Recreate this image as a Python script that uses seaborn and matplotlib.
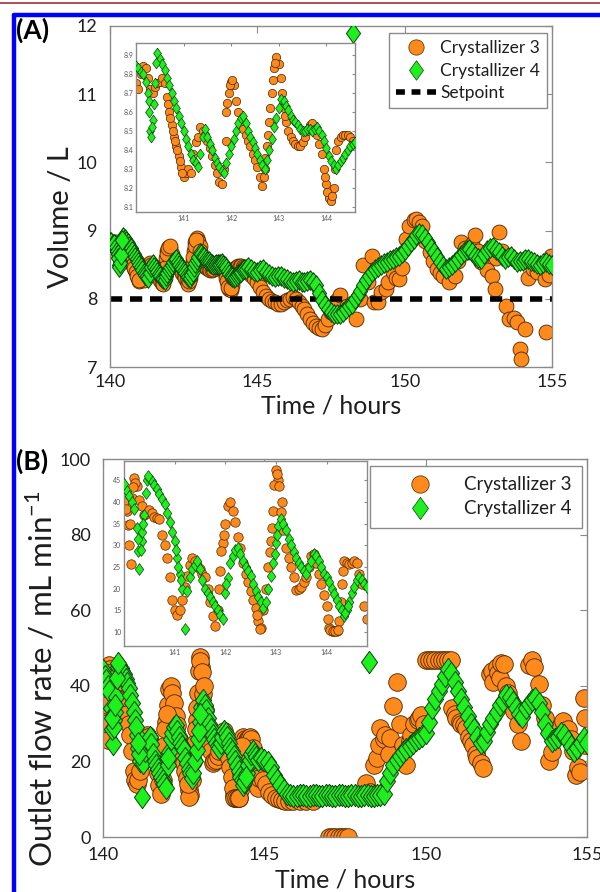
import numpy as np
import pandas as pd
import matplotlib
matplotlib.use("Agg")
import matplotlib.pyplot as plt
import seaborn as sns
from matplotlib.lines import Line2D

# ================= Panel A: Volume / L =================
# Crystallizer 3 (orange circles)
a_c3_t = [140.00, 140.05, 140.10, 140.15, 140.20, 140.25, 140.30, 140.35, 140.40, 140.45, 140.50, 140.55,
          140.60, 140.65, 140.70, 140.75, 140.80, 140.85, 140.90, 140.95, 141.00, 141.05, 141.10, 141.15,
          141.20, 141.25, 141.30, 141.35, 141.40, 141.45, 141.50, 141.55, 141.60, 141.65, 141.70, 141.75,
          141.80, 141.85, 141.90, 141.95, 142.00, 142.05, 142.10, 142.15, 142.20, 142.25, 142.30, 142.35,
          142.40, 142.45, 142.50, 142.55, 142.60, 142.65, 142.70, 142.75, 142.80, 142.85, 142.90, 142.95,
          143.00, 143.05, 143.10, 143.15, 143.20, 143.25, 143.30, 143.35, 143.40, 143.45, 143.50, 143.55,
          143.60, 143.65, 143.70, 143.75, 143.80, 143.85, 143.90, 143.95, 144.00, 144.05, 144.10, 144.15,
          144.20, 144.25, 144.30, 144.35, 144.40, 144.45, 144.50, 144.55, 144.60,
          141.88, 141.92, 141.98, 142.02, 142.68, 142.72, 142.78, 142.82, 142.87, 142.92, 143.07, 143.12,
          140.67, 140.72, 140.77, 140.82, 140.87, 140.92, 140.97, 143.97, 144.02, 144.12, 144.17,
          144.7, 144.8, 144.9, 145.0, 145.1, 145.2, 145.3, 145.4, 145.5, 145.6, 145.7, 145.8,
          145.9, 146.0, 146.1, 146.2, 146.3, 146.4, 146.5, 146.6, 146.7, 146.8, 146.9, 147.0,
          147.1, 147.2, 147.3, 147.4, 147.5, 147.6, 147.7, 147.8, 148.05, 148.35, 148.5, 148.6,
          148.75, 148.9, 148.95, 149.1, 149.2, 149.35, 149.45, 149.6, 149.7, 149.8, 149.9, 150.05,
          150.15, 150.3, 150.4, 150.5, 150.6, 150.7, 150.85, 150.95, 151.1, 151.2, 151.3, 151.5,
          151.7, 151.8, 151.9, 152.05, 152.15, 152.3, 152.4, 152.5, 152.6, 152.8, 152.95, 153.05,
          153.1, 153.2, 153.3, 153.45, 153.55, 153.7, 153.8, 153.9, 153.95, 154.1, 154.2, 154.35,
          154.5, 154.6, 154.75, 154.8, 154.9, 154.95]
a_c3_v = [8.75, 8.72, 8.80, 8.84, 8.83, 8.78, 8.72, 8.70, 8.73, 8.75, 8.76, 8.78,
          8.75, 8.68, 8.60, 8.53, 8.47, 8.42, 8.37, 8.31, 8.26, 8.28, 8.30, 8.28,
          8.38, 8.44, 8.47, 8.52, 8.50, 8.48, 8.45, 8.41, 8.37, 8.32, 8.28, 8.23,
          8.22, 8.30, 8.60, 8.70, 8.76, 8.74, 8.66, 8.60, 8.55, 8.51, 8.48, 8.45,
          8.42, 8.38, 8.35, 8.31, 8.26, 8.21, 8.30, 8.42, 8.55, 8.70, 8.83, 8.89,
          8.85, 8.78, 8.62, 8.55, 8.50, 8.47, 8.45, 8.43, 8.42, 8.42, 8.44, 8.47,
          8.50, 8.53, 8.54, 8.51, 8.48, 8.43, 8.38, 8.30, 8.22, 8.15, 8.13, 8.20,
          8.40, 8.45, 8.47, 8.48, 8.48, 8.48, 8.47, 8.45, 8.43,
          8.45, 8.65, 8.74, 8.77, 8.26, 8.36, 8.48, 8.62, 8.77, 8.86, 8.70, 8.58,
          8.64, 8.57, 8.50, 8.45, 8.40, 8.34, 8.28, 8.26, 8.18, 8.16, 8.30,
          8.40, 8.35, 8.30, 8.25, 8.18, 8.10, 8.04, 8.00, 7.97, 7.95, 7.93, 7.92,
          7.95, 7.98, 8.00, 8.02, 7.99, 7.95, 7.90, 7.85, 7.78, 7.70, 7.65, 7.60,
          7.57, 7.55, 7.62, 7.70, 7.80, 7.90, 7.98, 8.05, 7.90, 7.71, 8.00, 8.49,
          8.25, 8.63, 7.95, 7.95, 8.10, 8.15, 8.25, 8.39, 8.30, 8.29, 8.45, 8.88,
          9.07, 9.15, 9.17, 9.12, 9.07, 8.85, 8.68, 8.55, 8.44, 8.38, 8.34, 8.24,
          8.34, 8.55, 8.83, 8.75, 8.68, 8.80, 8.93, 8.70, 8.54, 8.42, 8.34, 8.15,
          8.60, 8.98, 8.70, 7.90, 7.71, 7.72, 7.66, 7.27, 7.12, 7.56, 8.30, 8.44,
          8.40, 8.49, 8.29, 7.51, 8.35, 8.63]

# Crystallizer 4 (green diamonds)
a_c4_t = [140.00, 140.05, 140.10, 140.15, 140.20, 140.25, 140.30, 140.35, 140.40, 140.45, 140.50, 140.55,
          140.60, 140.65, 140.70, 140.75, 140.80, 140.85, 140.90, 140.95, 141.00, 141.05, 141.10, 141.15,
          141.20, 141.25, 141.30, 141.35, 141.40, 141.45, 141.50, 141.55, 141.60, 141.65, 141.70, 141.75,
          141.80, 141.85, 141.90, 141.95, 142.00, 142.05, 142.10, 142.15, 142.20, 142.25, 142.30, 142.35,
          142.40, 142.45, 142.50, 142.55, 142.60, 142.65, 142.70, 142.75, 142.80, 142.85, 142.90, 142.95,
          143.00, 143.05, 143.10, 143.15, 143.20, 143.25, 143.30, 143.35, 143.40, 143.45, 143.50, 143.55,
          143.60, 143.65, 143.70, 143.75, 143.80, 143.85, 143.90, 143.95, 144.00, 144.05, 144.10, 144.15,
          144.20, 144.25, 144.30, 144.35, 144.40, 144.45, 144.50, 144.55, 144.60,
          140.27, 140.28, 140.32, 140.33, 140.37, 140.42,
          144.7, 144.8, 144.9, 145.0, 145.1, 145.2, 145.3, 145.4, 145.5, 145.6, 145.7, 145.8,
          145.9, 146.0, 146.1, 146.2, 146.3, 146.4, 146.5, 146.6, 146.7, 146.8, 146.9, 147.0,
          147.1, 147.2, 147.3, 147.4, 147.5, 147.6, 147.7, 147.8, 147.9, 148.0, 148.1, 148.2,
          148.25, 148.3, 148.4, 148.5, 148.6, 148.7, 148.8, 148.9, 149.0, 149.1, 149.2, 149.3,
          149.4, 149.5, 149.6, 149.7, 149.8, 149.9, 150.0, 150.1, 150.2, 150.3, 150.4, 150.5,
          150.6, 150.7, 150.8, 150.9, 151.0, 151.1, 151.2, 151.3, 151.4, 151.5, 151.6, 151.7,
          151.8, 151.9, 152.0, 152.1, 152.2, 152.3, 152.4, 152.5, 152.6, 152.7, 152.8, 152.9,
          153.0, 153.1, 153.2, 153.3, 153.4, 153.5, 153.6, 153.7, 153.8, 153.9, 154.0, 154.1,
          154.2, 154.3, 154.4, 154.5, 154.6, 154.7, 154.8, 154.9, 155.0]
a_c4_v = [8.84, 8.83, 8.81, 8.80, 8.76, 8.70, 8.50, 8.56, 8.75, 8.91, 8.88, 8.85,
          8.82, 8.78, 8.74, 8.70, 8.66, 8.62, 8.58, 8.54, 8.50, 8.46, 8.42, 8.38,
          8.35, 8.33, 8.31, 8.38, 8.47, 8.51, 8.47, 8.43, 8.40, 8.36, 8.33, 8.31,
          8.29, 8.28, 8.33, 8.38, 8.42, 8.46, 8.50, 8.54, 8.57, 8.58, 8.54, 8.50,
          8.47, 8.44, 8.41, 8.38, 8.35, 8.32, 8.30, 8.35, 8.40, 8.46, 8.52, 8.57,
          8.62, 8.67, 8.66, 8.63, 8.61, 8.58, 8.56, 8.55, 8.53, 8.51, 8.50, 8.50,
          8.51, 8.51, 8.50, 8.51, 8.52, 8.50, 8.48, 8.45, 8.41, 8.37, 8.34, 8.32,
          8.30, 8.32, 8.34, 8.36, 8.38, 8.40, 8.42, 8.43, 8.44,
          8.66, 8.60, 8.47, 8.52, 8.64, 8.86,
          8.46, 8.44, 8.41, 8.39, 8.42, 8.44, 8.40, 8.37, 8.34, 8.32, 8.33, 8.34,
          8.31, 8.29, 8.26, 8.24, 8.26, 8.27, 8.25, 8.24, 8.26, 8.27, 8.24, 8.20,
          8.08, 7.98, 7.91, 7.85, 7.80, 7.78, 7.77, 7.78, 7.81, 7.85, 7.89, 7.93,
          11.90, 7.99, 8.05, 8.12, 8.20, 8.27, 8.34, 8.39, 8.44, 8.47, 8.49, 8.52,
          8.54, 8.57, 8.59, 8.61, 8.63, 8.67, 8.71, 8.77, 8.83, 8.88, 8.93, 8.96,
          8.95, 8.89, 8.83, 8.75, 8.68, 8.61, 8.54, 8.48, 8.44, 8.46, 8.49, 8.54,
          8.59, 8.64, 8.68, 8.71, 8.73, 8.68, 8.63, 8.60, 8.59, 8.65, 8.71, 8.74,
          8.76, 8.72, 8.68, 8.63, 8.59, 8.61, 8.63, 8.58, 8.54, 8.55, 8.56, 8.58,
          8.59, 8.56, 8.54, 8.51, 8.49, 8.52, 8.54, 8.51, 8.49]
setpoint = 8.0

# ================= Panel B: Outlet flow rate =================
b_c3_t = [140.00, 140.05, 140.10, 140.15, 140.20, 140.25, 140.30, 140.35, 140.40, 140.45, 140.50, 140.55,
          140.60, 140.65, 140.70, 140.75, 140.80, 140.85, 140.90, 140.95, 141.00, 141.05, 141.10, 141.15,
          141.20, 141.25, 141.30, 141.35, 141.40, 141.45, 141.50, 141.55, 141.60, 141.65, 141.70, 141.75,
          141.80, 141.85, 141.90, 141.95, 142.00, 142.05, 142.10, 142.15, 142.20, 142.25, 142.30, 142.35,
          142.40, 142.45, 142.50, 142.55, 142.60, 142.65, 142.70, 142.75, 142.80, 142.85, 142.90, 142.95,
          143.00, 143.05, 143.10, 143.15, 143.20, 143.25, 143.30, 143.35, 143.40, 143.45, 143.50, 143.55,
          143.60, 143.65, 143.70, 143.75, 143.80, 143.85, 143.90, 143.95, 144.00, 144.05, 144.10, 144.15,
          144.20, 144.25, 144.30, 144.35, 144.40, 144.45, 144.50, 144.55, 144.60, 144.65, 144.70, 144.75,
          144.80,
          140.03, 140.07, 140.14, 140.12, 141.88, 141.92, 141.98, 142.97, 142.92, 142.88, 143.02, 143.07,
          143.12, 142.68, 142.62, 144.32, 144.28, 144.02, 144.07, 144.12, 144.17, 144.22, 140.22, 140.18,
          144.85, 144.95, 145.05, 145.15, 145.25, 145.35, 145.45, 145.55, 145.65, 145.75, 145.9, 146.1,
          146.3, 146.5, 147.0, 147.1, 147.2, 147.3, 147.4, 147.5, 147.6, 148.15, 148.26, 148.4,
          148.5, 148.55, 148.6, 148.7, 148.75, 148.85, 148.9, 149.0, 149.1, 149.2, 149.3, 149.4,
          149.5, 149.55, 149.65, 149.75, 149.8, 149.86, 149.95, 150.0, 150.1, 150.2, 150.3, 150.4,
          150.5, 150.6, 150.7, 150.8, 150.82, 150.9, 150.95, 151.05, 151.1, 151.2, 151.25, 151.35,
          151.4, 151.47, 151.55, 151.6, 151.7, 151.78, 152.0, 152.05, 152.1, 152.2, 152.25, 152.3,
          152.35, 152.42, 152.5, 152.55, 152.65, 152.75, 152.85, 152.96, 153.2, 153.28, 153.35, 153.5,
          153.6, 153.71, 153.82, 153.9, 154.03, 154.15, 154.25, 154.4, 154.5, 154.57, 154.67, 154.72,
          154.78, 154.9, 154.93, 154.95]
b_c3_v = [40.0, 38.0, 30.2, 41.0, 45.6, 43.7, 40.5, 39.0, 37.0, 37.5, 38.1, 37.5,
          36.6, 36.4, 36.2, 32.5, 30.0, 27.0, 22.7, 17.5, 15.2, 14.0, 15.0, 17.5,
          20.5, 23.0, 25.5, 27.0, 26.5, 25.5, 24.5, 23.5, 22.7, 20.0, 17.0, 13.7,
          11.5, 15.0, 24.0, 30.5, 35.0, 39.2, 40.0, 38.0, 35.5, 32.0, 29.5, 26.0,
          23.5, 21.5, 19.5, 17.5, 15.5, 12.5, 11.0, 15.0, 20.0, 25.0, 31.0, 38.0,
          47.5, 45.0, 37.7, 33.5, 29.5, 27.0, 25.0, 22.7, 19.7, 20.0, 20.5, 21.5,
          22.7, 25.0, 27.5, 28.0, 26.0, 23.5, 21.0, 18.5, 16.0, 11.0, 10.2, 10.2,
          10.3, 12.5, 21.2, 26.5, 26.0, 25.7, 26.0, 26.5, 26.0, 23.5, 21.2, 16.0,
          13.0,
          38.5, 34.7, 25.7, 35.0, 20.0, 28.7, 32.5, 44.0, 34.0, 28.5, 46.5, 43.7,
          40.0, 10.7, 14.0, 24.0, 17.0, 13.0, 10.4, 10.2, 10.2, 10.4, 44.5, 43.5,
          15.6, 15.0, 14.0, 12.0, 11.0, 10.2, 10.0, 9.8, 9.6, 9.5, 9.5, 9.5,
          9.5, 9.5, 0.0, 0.0, 0.0, 0.0, 0.0, 0.0, 0.0, 14.2, 12.0, 19.0,
          20.9, 24.4, 28.9, 26.0, 27.1, 22.0, 26.2, 34.7, 40.9, 30.0, 24.4, 19.1,
          25.5, 27.0, 29.8, 31.0, 31.5, 32.4, 30.0, 46.7, 46.7, 46.7, 46.7, 46.7,
          46.7, 46.7, 46.7, 46.7, 34.2, 32.5, 31.6, 30.5, 30.0, 29.5, 28.9, 26.5,
          25.5, 24.4, 22.0, 20.9, 19.5, 18.2, 43.1, 44.0, 41.0, 44.9, 43.5, 42.0,
          46.0, 45.8, 40.0, 38.0, 35.5, 33.3, 30.0, 25.3, 45.5, 46.7, 45.0, 40.4,
          35.0, 31.6, 20.0, 22.5, 27.1, 29.0, 30.7, 28.5, 26.0, 22.7, 16.4, 18.5,
          17.3, 36.9, 31.6, 24.4]

b_c4_t = [140.00, 140.05, 140.10, 140.15, 140.20, 140.25, 140.30, 140.35, 140.40, 140.45, 140.50, 140.55,
          140.60, 140.65, 140.70, 140.75, 140.80, 140.85, 140.90, 140.95, 141.00, 141.05, 141.10, 141.15,
          141.20, 141.25, 141.30, 141.35, 141.40, 141.45, 141.50, 141.55, 141.60, 141.65, 141.70, 141.75,
          141.80, 141.85, 141.90, 141.95, 142.00, 142.05, 142.10, 142.15, 142.20, 142.25, 142.30, 142.35,
          142.40, 142.45, 142.50, 142.55, 142.60, 142.65, 142.70, 142.75, 142.80, 142.85, 142.90, 142.95,
          143.00, 143.05, 143.10, 143.15, 143.20, 143.25, 143.30, 143.35, 143.40, 143.45, 143.50, 143.55,
          143.60, 143.65, 143.70, 143.75, 143.80, 143.85, 143.90, 143.95, 144.00, 144.05, 144.10, 144.15,
          144.20, 144.25, 144.30, 144.35, 144.40, 144.45, 144.50, 144.55, 144.60, 144.65, 144.70, 144.75,
          144.80,
          140.28, 140.33, 140.36, 140.43, 140.27, 140.38, 140.47, 142.02, 142.98, 143.02, 144.37, 144.42,
          141.12, 141.02, 141.07,
          144.9, 145.0, 145.1, 145.2, 145.3, 145.4, 145.5, 145.6, 145.7, 145.8, 145.9, 146.0,
          146.1, 146.2, 146.3, 146.4, 146.5, 146.6, 146.7, 146.8, 146.9, 147.0, 147.1, 147.2,
          147.3, 147.4, 147.5, 147.6, 147.7, 147.8, 147.9, 148.0, 148.1, 148.2, 148.25, 148.3,
          148.4, 148.5, 148.6, 148.7, 148.8, 148.9, 149.0, 149.1, 149.2, 149.3, 149.4, 149.5,
          149.6, 149.7, 149.8, 149.9, 150.0, 150.1, 150.2, 150.3, 150.4, 150.5, 150.6, 150.7,
          150.8, 150.9, 151.0, 151.1, 151.2, 151.3, 151.4, 151.5, 151.6, 151.7, 151.8, 151.9,
          152.0, 152.1, 152.2, 152.3, 152.4, 152.5, 152.6, 152.7, 152.8, 152.9, 153.0, 153.1,
          153.2, 153.3, 153.4, 153.5, 153.6, 153.7, 153.8, 153.9, 154.0, 154.1, 154.2, 154.3,
          154.4, 154.5, 154.6, 154.7, 154.8, 154.9, 155.0]
b_c4_v = [44.1, 42.5, 41.5, 40.0, 38.5, 34.0, 24.6, 31.0, 37.0, 45.0, 45.5, 44.8,
          44.0, 43.0, 41.8, 40.8, 39.5, 37.5, 35.5, 33.0, 31.0, 27.0, 23.5, 20.0,
          10.7, 19.5, 22.7, 24.5, 25.5, 26.5, 24.5, 22.0, 20.0, 19.0, 18.0, 17.0,
          16.0, 15.0, 14.0, 13.0, 19.0, 22.5, 26.0, 27.5, 29.0, 29.5, 28.0, 26.5,
          25.0, 24.0, 23.0, 21.0, 19.5, 18.0, 17.0, 15.5, 17.0, 20.0, 23.0, 26.0,
          30.5, 34.5, 36.2, 35.0, 33.5, 31.5, 30.0, 28.5, 27.0, 26.0, 25.0, 24.0,
          23.5, 25.0, 26.5, 28.0, 27.5, 26.5, 25.0, 23.5, 22.7, 21.5, 20.0, 18.7,
          17.5, 16.0, 15.0, 13.7, 15.0, 17.0, 19.0, 20.5, 22.0, 22.7, 22.0, 21.2,
          20.5,
          28.7, 29.0, 33.0, 42.0, 31.5, 35.0, 46.0, 21.0, 28.0, 32.5, 14.5, 16.0,
          22.0, 29.0, 25.0,
          21.0, 20.5, 19.8, 18.5, 16.5, 15.0, 13.8, 12.5, 11.5, 11.0, 10.8, 10.8,
          11.0, 11.0, 10.8, 10.8, 11.0, 11.0, 10.8, 10.8, 11.0, 11.0, 10.8, 10.8,
          11.0, 11.0, 10.8, 10.8, 11.0, 11.0, 10.8, 10.8, 11.0, 11.0, 46.2, 10.8,
          10.8, 11.0, 11.2, 11.5, 14.7, 17.0, 19.1, 20.3, 21.5, 22.5, 23.2, 24.0,
          25.0, 25.6, 26.2, 26.7, 27.5, 30.5, 34.0, 36.5, 38.5, 40.4, 42.5, 44.5,
          43.5, 41.0, 38.5, 36.5, 34.5, 32.0, 30.0, 28.5, 26.5, 24.8, 25.5, 27.8,
          29.8, 31.5, 33.0, 35.0, 36.0, 37.5, 37.0, 35.8, 34.0, 32.5, 31.8, 34.0,
          35.3, 36.2, 36.9, 35.5, 33.0, 30.0, 27.5, 25.5, 26.0, 26.5, 27.5, 27.0,
          25.5, 24.0, 22.7, 23.5, 25.0, 26.2, 25.0]

series_names = ["Crystallizer 3", "Crystallizer 4"]
setpoint_name = "Setpoint"
main_xticks = [140, 145, 150, 155]
a_yticks = [7, 8, 9, 10, 11, 12]
b_yticks = [0, 20, 40, 60, 80, 100]
a_in_xticks = [141, 142, 143, 144]
a_in_yticks = [8.1, 8.2, 8.3, 8.4, 8.5, 8.6, 8.7, 8.8, 8.9]
b_in_xticks = [141, 142, 143, 144]
b_in_yticks = [10, 15, 20, 25, 30, 35, 40, 45]

# ================= style =================
sns.set_theme(style="white")
plt.rcParams['font.family'] = ['Lato', 'DejaVu Sans']
plt.rcParams['mathtext.fontset'] = 'custom'
plt.rcParams['mathtext.rm'] = 'Lato'

ORANGE = '#FF8A1C'
ORANGE_EDGE = '#4a2500'
GREEN = '#1EF01E'
GREEN_EDGE = '#0f3f0f'
SPINE = '#8a8a8a'
TXT = '#1e1e1e'
DIAMOND = [(0, 1), (0.72, 0), (0, -1), (-0.72, 0), (0, 1)]

W, H = 600, 892
fig = plt.figure(figsize=(W / 100, H / 100), dpi=100)
fig.patch.set_facecolor('white')


def box(l, t, r, b):
    return [l / W, 1 - b / H, (r - l) / W, (b - t) / H]


# page frame (red rule + blue border)
fig.add_artist(Line2D([0, 1], [1 - 2.5 / H, 1 - 2.5 / H], color='#A2303C', lw=1.2, transform=fig.transFigure))
fig.add_artist(Line2D([14 / W, 1], [1 - 15 / H, 1 - 15 / H], color='#0000FF', lw=3.2, transform=fig.transFigure))
fig.add_artist(Line2D([14 / W, 14 / W], [0, 1 - 15 / H], color='#0000FF', lw=3.2, transform=fig.transFigure))


def style_axes(ax, xlim, ylim, xticks, yticks, lab, tl, xpad, ypad):
    ax.set_xlim(*xlim)
    ax.set_ylim(*ylim)
    ax.set_xticks(xticks)
    ax.set_yticks(yticks)
    for s in ax.spines.values():
        s.set_color(SPINE)
        s.set_linewidth(1.0)
        s.set_visible(True)
    ax.tick_params(direction='in', length=tl, width=0.8, color=SPINE, labelsize=lab,
                   labelcolor=TXT, top=True, right=True)
    ax.tick_params(axis='x', pad=xpad)
    ax.tick_params(axis='y', pad=ypad)
    ax.set_facecolor('white')
    ax.grid(False)


def scatter(ax, t, v, color, edge, marker, s, lw, z, tmax=None):
    df = pd.DataFrame({"t": t, "v": v})
    if tmax is not None:
        df = df[df["t"] <= tmax]
    sns.scatterplot(data=df, x="t", y="v", ax=ax, color=color, edgecolor=edge, marker=marker,
                    s=s, linewidth=lw, zorder=z, legend=False)


def legend(ax, handles, labels, anchor, hl, fs, bp):
    leg = ax.legend(handles, labels, loc='upper right', bbox_to_anchor=anchor,
                    fontsize=fs, frameon=True, fancybox=False, edgecolor=SPINE, framealpha=1,
                    handlelength=hl, handletextpad=0.25, borderpad=bp, labelspacing=0.38,
                    borderaxespad=0)
    leg.get_frame().set_linewidth(1.0)
    for t in leg.get_texts():
        t.set_color(TXT)
    return leg


# ---------- Panel A ----------
axA = fig.add_axes(box(110, 26, 552, 367))
scatter(axA, a_c3_t, a_c3_v, ORANGE, ORANGE_EDGE, 'o', 115, 0.6, 2)
axA.axhline(setpoint, color='black', lw=4, dashes=(2.2, 1.4), zorder=2.5)
scatter(axA, a_c4_t, a_c4_v, GREEN, GREEN_EDGE, DIAMOND, 200, 0.7, 3)
style_axes(axA, (140, 155), (7, 12), main_xticks, a_yticks, 13, 5, 5, 9)
axA.set_xlabel("Time / hours", fontsize=18, color=TXT, labelpad=3)
axA.set_ylabel("Volume / L", fontsize=21, color=TXT)
axA.yaxis.set_label_coords(-0.082, 0.44)
hA = [Line2D([], [], ls='', marker='o', ms=11, mfc=ORANGE, mec=ORANGE_EDGE, mew=0.5),
      Line2D([], [], ls='', marker=DIAMOND, ms=14, mfc=GREEN, mec=GREEN_EDGE, mew=0.5),
      Line2D([], [], color='black', lw=4, dashes=(1.6, 1.2))]
legend(axA, hA, series_names + [setpoint_name], (0.989, 0.979), 2.3, 12.5, 0.4)

# inset A
axAi = fig.add_axes(box(136, 43, 355, 212))
scatter(axAi, a_c3_t, a_c3_v, ORANGE, ORANGE_EDGE, 'o', 36, 0.5, 2, tmax=144.62)
scatter(axAi, a_c4_t, a_c4_v, GREEN, GREEN_EDGE, DIAMOND, 60, 0.5, 3, tmax=144.62)
style_axes(axAi, (140.0, 144.6), (8.074, 8.963), a_in_xticks, a_in_yticks, 5, 2, 2, 2)
axAi.tick_params(labelcolor='#555555')
axAi.set_xlabel("")
axAi.set_ylabel("")

# ---------- Panel B ----------
axB = fig.add_axes(box(103, 459, 587, 837))
scatter(axB, b_c3_t, b_c3_v, ORANGE, ORANGE_EDGE, 'o', 160, 0.6, 2)
scatter(axB, b_c4_t, b_c4_v, GREEN, GREEN_EDGE, DIAMOND, 260, 0.7, 3)
style_axes(axB, (140, 155), (0, 100), main_xticks, b_yticks, 13, 5, 7, 9)
axB.set_xlabel("Time / hours", fontsize=18, color=TXT, labelpad=4)
axB.set_ylabel("Outlet flow rate / mL min$^{-1}$", fontsize=22.5, color=TXT)
axB.yaxis.set_label_coords(-0.095, 0.42)
hB = [Line2D([], [], ls='', marker='o', ms=12.5, mfc=ORANGE, mec=ORANGE_EDGE, mew=0.5),
      Line2D([], [], ls='', marker=DIAMOND, ms=16, mfc=GREEN, mec=GREEN_EDGE, mew=0.5)]
legend(axB, hB, series_names, (0.9897, 0.982), 4.2, 13.5, 0.55)

# inset B
axBi = fig.add_axes(box(124, 461, 367, 646))
scatter(axBi, b_c3_t, b_c3_v, ORANGE, ORANGE_EDGE, 'o', 46, 0.5, 2, tmax=144.82)
scatter(axBi, b_c4_t, b_c4_v, GREEN, GREEN_EDGE, DIAMOND, 72, 0.5, 3, tmax=144.82)
style_axes(axBi, (140.0, 144.8), (6.8, 49.5), b_in_xticks, b_in_yticks, 5, 2, 2, 2)
axBi.tick_params(labelcolor='#555555')
axBi.set_xlabel("")
axBi.set_ylabel("")

# panel letters
fig.text(16 / W, 1 - 30 / H, "(A)", fontsize=19, fontweight='bold', color='black', va='center', ha='left')
fig.text(16 / W, 1 - 461 / H, "(B)", fontsize=19, fontweight='bold', color='black', va='center', ha='left')

fig.savefig("out.png", dpi=100, facecolor='white')
